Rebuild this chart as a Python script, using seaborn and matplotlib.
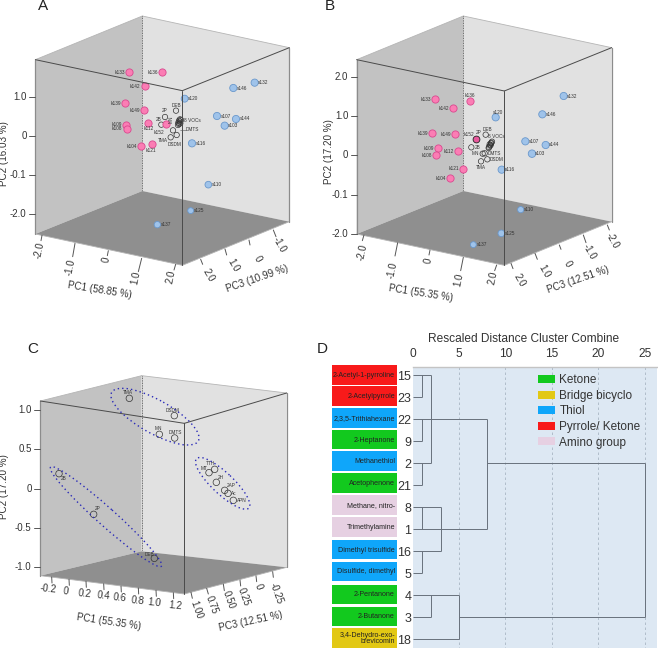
import numpy as np
import pandas as pd
import seaborn as sns
import matplotlib
matplotlib.use('Agg')
import matplotlib.pyplot as plt
from matplotlib.patches import Ellipse, Patch, Polygon

sns.set_theme(style='white')
plt.rcParams['font.family'] = ['Liberation Sans', 'DejaVu Sans']

W, H = 658, 648

# values, in the panel's view units (3 units = 1 pixel)
a_k_names = ['k133', 'k136', 'k142', 'k139', 'k149', 'k109', 'k108', 'k112', 'k152', 'k104', 'k121']
a_k_x = [388, 487, 434, 375, 432, 378, 380, 443, 498, 424, 455]
a_k_y = [215, 216, 259, 309, 330, 374, 386, 369, 373, 437, 432]
a_s_names = ['s120', 's132', 's146', 's107', 's144', 's103', 's116', 's110', 's125', 's137']
a_s_x = [554, 764, 700, 651, 708, 674, 576, 625, 572, 472]
a_s_y = [296, 248, 264, 348, 357, 377, 430, 554, 632, 674]
a_s_size = [25, 27, 27, 27, 27, 27, 27, 23, 18, 21]
a_voc_x = [528, 495, 484, 519, 512, 530, 540, 537, 543, 535, 540, 537, 534, 541]
a_voc_y = [332, 351, 374, 391, 412, 405, 358, 362, 360, 368, 365, 372, 375, 370]

b_k_names = ['k133', 'k136', 'k142', 'k139', 'k149', 'k109', 'k108', 'k112', 'k121', 'k104', 'k152']
b_k_x = [316, 421, 370, 306, 375, 325, 319, 383, 400, 359, 437]
b_k_y = [297, 303, 324, 399, 402, 443, 466, 454, 506, 533, 418]
b_s_names = ['s132', 's146', 's120', 's107', 's144', 's103', 's116', 's110', 's125', 's137']
b_s_x = [701, 637, 497, 586, 647, 606, 515, 572, 514, 430]
b_s_y = [288, 343, 352, 424, 435, 461, 509, 629, 700, 734]
b_s_size = [27, 27, 27, 27, 27, 29, 27, 20, 23, 18]
b_voc_x = [467, 424, 458, 464, 472, 453, 486, 483, 479, 480, 477, 484, 476, 482]
b_voc_y = [404, 442, 461, 460, 478, 484, 425, 430, 433, 437, 441, 428, 444, 435]

c_names = ['TMA', 'DSDM', 'MN', 'DMTS', 'TTH', 'MT', '2H', '2AP', 'Ac', 'APN', '2B', '2P', 'DEB']
c_x = [388, 523, 478, 524, 644, 627, 649, 674, 684, 700, 177, 281, 463]
c_y = [235, 287, 343, 354, 448, 458, 487, 511, 520, 541, 461, 583, 715]

y_ticks_ab = ['1.0', '0', '-0.1', '-2.0']
pc1_ticks_ab = ['-2.0', '-1.0', '0', '1.0', '2.0']
pc3_ticks_a = ['2.0', '1.0', '0', '-1.0']
pc3_ticks_b = ['2.0', '1.0', '0', '-1.0', '-2.0']
y_ticks_c = ['1.0', '0.5', '0', '-0.5', '-1.0']
pc1_ticks_c = ['-0.2', '0', '0.2', '0.4', '0.6', '0.8', '1.0', '1.2']
pc3_ticks_c = ['1.00', '0.75', '0.50', '0.25', '0', '-0.25']

leaf_ids = ['15', '23', '22', '9', '2', '21', '8', '1', '16', '5', '4', '3', '18']
leaf_names = ['2-Acetyl-1-pyrroline', '2-Acetylpyrrole', '2,3,5-Trithiahexane', '2-Heptanone',
              'Methanethiol', 'Acetophenone', 'Methane, nitro-', 'Trimethylamine',
              'Dimethyl trisulfide', 'Disulfide, dimethyl', '2-Pentanone', '2-Butanone',
              '3,4-Dehydro-exo-\nbrevicomin']
leaf_class = ['Pyrrole/ Ketone', 'Pyrrole/ Ketone', 'Thiol', 'Ketone', 'Thiol', 'Ketone',
              'Amino group', 'Amino group', 'Thiol', 'Thiol', 'Ketone', 'Ketone', 'Bridge bicyclo']
class_names = ['Ketone', 'Bridge bicyclo', 'Thiol', 'Pyrrole/ Ketone', 'Amino group']
# dendrogram: merge distance, first row, last row
merge_d = [1, 1, 1, 2, 8, 1, 1, 3, 2, 5, 25]
merge_top = [0, 2, 4, 0, 2, 6, 8, 6, 10, 10, 4]
merge_bot = [1, 3, 5, 4, 7, 7, 9, 8, 11, 12, 11]
# horizontal runs: row, from distance, to distance
run_row = [0, 1, 2, 3, 4, 5, 6, 7, 8, 9, 10, 11, 12, 11, 4]
run_from = [0, 0, 0, 0, 0, 0, 0, 0, 0, 0, 0, 0, 0, 5, 8]
run_to = [2, 1, 8, 1, 2, 1, 3, 8, 3, 1, 5, 2, 5, 25, 25]

class_colors = dict(zip(class_names, ['#12c91e', '#e2c814', '#0fa6fa', '#f81a1a', '#e6d0e2']))
PINK, PINK_E = '#fb7db4', '#d9488f'
BLUE, BLUE_E = '#9fc3ea', '#6a98cc'
DARK = '#333333'


def panel(x0, y0, x1, y1):
    # axes in view units, 3 units to one pixel, origin top left of the crop
    ax = plt.gcf().add_axes([x0 / W, 1 - y1 / H, (x1 - x0) / W, (y1 - y0) / H])
    ax.set_xlim(0, (x1 - x0) * 3)
    ax.set_ylim((y1 - y0) * 3, 0)
    ax.axis('off')
    return ax


def cube(ax, lt, bt, rt, ft, lb, bb, rb, fb):
    ax.add_patch(Polygon([lt, bt, bb, lb], fc='#c2c2c2', ec='none', zorder=1))
    ax.add_patch(Polygon([bt, rt, rb, bb], fc='#e1e1e1', ec='none', zorder=1))
    ax.add_patch(Polygon([lb, bb, rb, fb], fc='#8f8f8f', ec='none', zorder=1))
    for p, q in [(lt, bt), (bt, rt), (lb, fb), (fb, rb)]:
        ax.plot(*zip(p, q), color='#b5b5b5', lw=0.6, zorder=1.5)
    for p, q in [(lt, lb), (rt, rb)]:
        ax.plot(*zip(p, q), color='#8c8c8c', lw=0.9, zorder=1.5)
    ax.plot(*zip(bt, bb), color='#444444', lw=0.6, ls=(0, (1, 1)), zorder=1.6)
    for p, q in [(lt, ft), (ft, rt), (ft, fb)]:
        ax.plot(*zip(p, q), color='#4a4a4a', lw=0.7, zorder=4)


def ticks(ax, labels, base, tip, lab_xy, rot, fs=7):
    for t, p, q, xy in zip(labels, base, tip, lab_xy):
        ax.plot([p[0], q[0]], [p[1], q[1]], color='#555555', lw=0.7)
        ax.text(xy[0], xy[1], t, rotation=rot, rotation_mode='anchor', ha='center', va='center',
                fontsize=fs, color=DARK)


def y_axis(ax, labels, ys, x_edge, x_lab):
    for t, y in zip(labels, ys):
        ax.plot([x_edge - 18, x_edge], [y, y], color='#555555', lw=0.7)
        ax.text(x_lab, y, t, ha='right', va='center', fontsize=7, color=DARK)


def points(ax, x, y, color, edge, size):
    df = pd.DataFrame({'x': x, 'y': y})
    sns.scatterplot(data=df, x='x', y='y', color=color, edgecolor=edge, linewidth=0.6, s=size,
                    ax=ax, zorder=3, legend=False)
    ax.set_xlabel('')
    ax.set_ylabel('')


def small(ax, x, y, t, ha='center'):
    ax.text(x, y, t, ha=ha, va='center', fontsize=3.4, color='#333333', zorder=5)


def open_circles(ax, x, y, size=15):
    df = pd.DataFrame({'x': x, 'y': y})
    sns.scatterplot(data=df, x='x', y='y', facecolor='none', edgecolor='#333333', linewidth=0.5,
                    s=size, ax=ax, zorder=3, legend=False)
    ax.set_xlabel('')
    ax.set_ylabel('')


def pc_label(ax, x, y, t, rot):
    ax.text(x, y, t, rotation=rot, rotation_mode='anchor', ha='center', va='center', fontsize=7.1, color=DARK)


fig = plt.figure(figsize=(W / 100, H / 100), dpi=100, facecolor='white')

# panel A
ax = panel(0, 0, 330, 320)
cube(ax, (106, 179), (427, 48), (868, 143), (547, 272), (106, 702), (427, 573), (868, 665), (547, 796))
y_axis(ax, y_ticks_ab, [290, 407, 524, 641], 106, 80)
ticks(ax, pc1_ticks_ab, [(126, 706), (225, 730), (325, 752), (425, 775), (527, 793)],
      [(123, 722), (218, 770), (322, 767), (415, 815), (522, 810)],
      [(118, 752), (212, 803), (318, 778), (408, 835), (513, 832)], 78)
ticks(ax, pc3_ticks_a, [(602, 778), (675, 747), (747, 720), (820, 690)],
      [(608, 793), (680, 765), (750, 735), (828, 710)],
      [(627, 825), (700, 795), (773, 775), (838, 735)], -60)
pc_label(ax, 300, 870, 'PC1 (58.85 %)', -9)
pc_label(ax, 770, 835, 'PC3 (10.99 %)', 19)
pc_label(ax, 12, 460, 'PC2 (16.03 %)', 90)
ax.text(130, 18, 'A', ha='center', va='center', fontsize=11, color='#222222')
open_circles(ax, a_voc_x, a_voc_y)
points(ax, a_k_x, a_k_y, PINK, PINK_E, 27)
points(ax, a_s_x, a_s_y, BLUE, BLUE_E, a_s_size)
a_k_lab = {'k112': (446, 387), 'k152': (478, 396), 'k121': (454, 450)}
for n, x, y in zip(a_k_names, a_k_x, a_k_y):
    if n in a_k_lab:
        small(ax, a_k_lab[n][0], a_k_lab[n][1], n)
    else:
        small(ax, x - 13, y + 1, n, ha='right')
for n, x, y in zip(a_s_names, a_s_x, a_s_y):
    small(ax, x + 11, y, n, ha='left')
for t, x, y in [('DEB', 528, 316), ('2P', 493, 333), ('2B', 475, 358), ('8 VOCs', 576, 363),
                ('DMTS', 577, 389), ('TMA', 490, 421), ('DSDM', 525, 435)]:
    small(ax, x, y, t)
ax.text(514, 358, 'MN', rotation=90, ha='center', va='center', fontsize=3.4, color='#333333', zorder=5)
ax.plot([540, 557], [390, 390], color='#555555', lw=0.4, zorder=5)

# panel B
ax = panel(330, 0, 658, 320)
cube(ax, (80, 179), (400, 48), (845, 143), (523, 273), (80, 702), (400, 573), (845, 665), (523, 796))
y_axis(ax, ['2.0'] + y_ticks_ab, [231, 349, 466, 584, 703], 80, 55)
ticks(ax, pc1_ticks_ab, [(102, 705), (203, 728), (300, 750), (400, 772), (500, 795)],
      [(97, 722), (195, 768), (297, 765), (392, 812), (494, 812)],
      [(98, 757), (188, 810), (295, 783), (385, 840), (490, 835)], 78)
ticks(ax, pc3_ticks_b, [(543, 790), (615, 760), (688, 735), (760, 705), (832, 675)],
      [(549, 806), (622, 778), (693, 748), (768, 728), (838, 690)],
      [(570, 840), (642, 813), (713, 792), (777, 755), (848, 722)], -60)
pc_label(ax, 273, 878, 'PC1 (55.35 %)', -9)
pc_label(ax, 745, 840, 'PC3 (12.51 %)', 19)
pc_label(ax, -4, 455, 'PC2 (17.20 %)', 90)
ax.text(-2, 18, 'B', ha='center', va='center', fontsize=11, color='#222222')
open_circles(ax, b_voc_x, b_voc_y)
points(ax, b_k_x[:-1], b_k_y[:-1], PINK, PINK_E, 27)
points(ax, b_k_x[-1:], b_k_y[-1:], '#e8589c', '#222222', 24)
points(ax, b_s_x, b_s_y, BLUE, BLUE_E, b_s_size)
b_k_lab = {'k136': (420, 287), 'k152': (417, 402)}
for n, x, y in zip(b_k_names, b_k_x, b_k_y):
    if n in b_k_lab:
        small(ax, b_k_lab[n][0], b_k_lab[n][1], n)
    else:
        small(ax, x - 12, y + 1, n, ha='right')
for n, x, y in zip(b_s_names, b_s_x, b_s_y):
    if n == 's120':
        small(ax, 503, 336, n)
    else:
        small(ax, x + 10, y, n, ha='left')
for t, x, y in [('DEB', 473, 388), ('2P', 447, 398), ('2B', 443, 442), ('8 VOCs', 500, 411),
                ('MN', 437, 461), ('DMTS', 494, 460), ('DSDM', 501, 478), ('TMA', 452, 502)]:
    small(ax, x, y, t)

# panel C
ax = panel(0, 320, 330, 648)
cube(ax, (121, 243), (425, 167), (860, 219), (553, 310), (121, 767), (425, 694), (860, 742), (553, 822))
y_axis(ax, y_ticks_c, [269, 388, 506, 624, 742], 121, 95)
ticks(ax, pc1_ticks_c, [(155, 771), (207, 778), (258, 784), (311, 791), (363, 798), (415, 804), (468, 811), (520, 818)],
      [(156, 789), (208, 796), (259, 802), (312, 809), (364, 816), (416, 822), (469, 829), (521, 836)],
      [(145, 807), (198, 813), (255, 820), (312, 827), (358, 833), (412, 842), (462, 847), (525, 857)], -6)
ticks(ax, pc3_ticks_c, [(573, 817), (620, 805), (670, 792), (720, 780), (768, 768), (818, 755)],
      [(577, 835), (625, 822), (673, 812), (722, 798), (770, 785), (820, 772)],
      [(588, 868), (635, 853), (685, 840), (732, 830), (775, 800), (828, 820)], -70)
pc_label(ax, 325, 905, 'PC1 (55.35 %)', -8.5)
pc_label(ax, 752, 905, 'PC3 (12.51 %)', 12)
pc_label(ax, 12, 500, 'PC2 (17.20 %)', 90)
ax.text(98, 88, 'C', ha='center', va='center', fontsize=11, color='#222222')
ax.text(968, 88, 'D', ha='center', va='center', fontsize=11, color='#222222')
open_circles(ax, c_x, c_y, size=22)
c_lab = [(384, 216), (519, 271), (475, 325), (527, 339), (632, 430), (612, 445), (662, 472),
         (694, 497), (702, 520), (727, 542), (190, 477), (293, 565), (448, 703)]
for n, (x, y) in zip(c_names, c_lab):
    small(ax, x, y, n)
for center, a, b, ang in [((465, 290), 298, 100, 29.4), ((318, 590), 446, 54, 41.8), ((668, 490), 216, 64, 43.3)]:
    ax.add_patch(Ellipse(center, a, b, angle=ang, fc='none', ec='#2a2ab8', lw=1.0, ls=(0, (1, 2.2)), zorder=6))

# panel D
ax = panel(330, 320, 658, 648)
row_top = [135, 198, 264, 330, 394, 460, 526, 591, 660, 725, 795, 860, 925]
row_h = [60, 60, 60, 58, 60, 60, 59, 59, 58, 58, 58, 59, 60]
ax.barh([t + h / 2 for t, h in zip(row_top, row_h)], [195] * 13, height=row_h, left=7,
        color=[class_colors[c] for c in leaf_class], linewidth=0)
for t, h, n in zip(row_top, row_h, leaf_names):
    ax.text(195, t + h / 2 + 1, n, ha='right', va='center', fontsize=5.1, color='#222222', linespacing=0.9)
ax.text(581, 58, 'Rescaled Distance Cluster Combine', ha='center', va='center', fontsize=8.6, color=DARK)

# tree axes: left edge is distance 0, 27.84 view units to one distance step
tree = fig.add_axes([(330 + 248 / 3) / W, 1 - (320 + 984 / 3) / H, (982 - 248) / 3 / W, (984 - 140) / 3 / H])
tree.set_facecolor('#dde8f3')
tree.set_xlim(0, 26.36)
tree.set_ylim(12.39, -0.394)
sns.despine(ax=tree, left=True, bottom=True, right=True, top=False)
tree.spines['top'].set_color('#c4c4c4')
tree.spines['top'].set_linewidth(1.0)
tree.xaxis.tick_top()
tree.set_xticks([0, 5, 10, 15, 20, 25])
tree.tick_params(axis='x', length=0, pad=5, labelsize=8.6, labelcolor=DARK)
tree.set_yticks(range(13))
tree.set_yticklabels(leaf_ids, fontsize=9, color=DARK)
tree.tick_params(axis='y', length=0, pad=1)
tree.grid(False)
tree.vlines([5, 10, 15, 20, 25], -0.394, 12.39, color='#a9b6c4', lw=0.6, ls=(0, (3, 3)))
tree.hlines(run_row, run_from, run_to, color='#68717c', lw=0.7)
tree.vlines(merge_d, merge_top, merge_bot, color='#68717c', lw=0.7)
handles = [Patch(fc=class_colors[c], ec='none', label=c) for c in class_names]
tree.legend(handles=handles, loc='upper left', bbox_to_anchor=(0.503, 0.981), frameon=False, fontsize=8.5,
            handlelength=1.45, handleheight=0.68, labelspacing=0.3, handletextpad=0.35, borderpad=0.2,
            borderaxespad=0, labelcolor=DARK)

fig.savefig('out.png', dpi=100, facecolor='white')
